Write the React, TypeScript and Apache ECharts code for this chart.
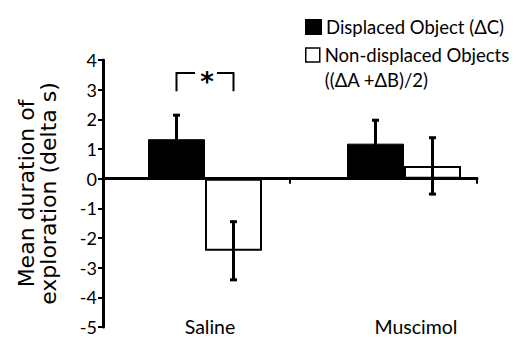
import React, { useEffect, useRef } from 'react';
import * as echarts from 'echarts';

const categories = ['Saline', 'Muscimol'];
const seriesNames = ['Displaced Object (ΔC)', 'Non-displaced Objects\n((ΔA +ΔB)/2)'];
const displacedMean = [1.33, 1.18];
const displacedErr = [0.81, 0.79];
const nonDisplacedMean = [-2.43, 0.43];
const nonDisplacedErr = [0.98, 0.95];
const yMin = -5;
const yMax = 4;
const yName = 'Mean duration of\nexploration (delta s)';
// significance bracket: [category index, bracket top, leg bottom]
const sigBrackets = [[0, 3.56, 2.95]];

const BAR_W = 57;
const HALF = BAR_W / 2;

export default function App() {
  const ref = useRef<HTMLDivElement>(null);
  useEffect(() => {
    const chart = echarts.init(ref.current!, null, { renderer: 'svg' });
    const errRender = (sign: number) => (params: any, api: any) => {
      const cat = api.value(0);
      const mean = api.value(1);
      const err = api.value(2);
      const top = api.coord([cat, mean + err]);
      const bot = api.coord([cat, mean - err]);
      const x = top[0] + sign * HALF;
      const style = { stroke: '#000', lineWidth: 3 };
      return {
        type: 'group',
        children: [
          { type: 'line', shape: { x1: x, y1: top[1], x2: x, y2: bot[1] }, style },
          { type: 'line', shape: { x1: x - 3.5, y1: top[1], x2: x + 3.5, y2: top[1] }, style },
          { type: 'line', shape: { x1: x - 3.5, y1: bot[1], x2: x + 3.5, y2: bot[1] }, style },
        ],
      };
    };
    const option: any = {
      animation: false,
      grid: [
        { left: 103, right: 43, top: 60, bottom: 12 },
        { left: 105.5, right: 16.5, top: 60, bottom: 12 },
        { left: 107, right: 1, top: 60, bottom: 28 },
      ],
      legend: [
        {
          left: 300,
          top: 12,
          orient: 'vertical',
          selectedMode: false,
          itemWidth: 15,
          itemHeight: 14,
          icon: 'rect',
          data: [{ name: seriesNames[0], itemStyle: { color: '#000' } }],
          textStyle: { fontFamily: 'Lato', fontSize: 18.5, lineHeight: 20, color: '#000' },
        },
        {
          left: 300,
          top: 12.5,
          orient: 'vertical',
          selectedMode: false,
          itemWidth: 14,
          itemHeight: 14,
          icon: 'rect',
          data: [
            {
              name: seriesNames[1],
              itemStyle: { color: '#fff', borderColor: '#000', borderWidth: 1.5 },
            },
          ],
          formatter: (name: string) => '\n' + name,
          textStyle: {
            fontFamily: 'Lato',
            fontSize: 18.5,
            color: '#000',
            lineHeight: 25,
          },
        },
      ],
      xAxis: [
        {
          type: 'category',
          gridIndex: 0,
          data: categories,
          boundaryGap: true,
          axisLine: { onZero: true, lineStyle: { color: '#000', width: 3 } },
          axisTick: { show: true, length: 5, lineStyle: { color: '#000', width: 2 } },
          axisLabel: { show: false },
          splitLine: { show: false },
        },
        {
          type: 'category',
          gridIndex: 1,
          data: categories,
          show: false,
        },
        {
          type: 'category',
          gridIndex: 2,
          data: categories,
          position: 'bottom',
          axisLine: { show: false },
          axisTick: { show: false },
          axisLabel: { margin: 6, fontFamily: 'Lato', fontSize: 19.5, lineHeight: 18, color: '#000' },
        },
      ],
      yAxis: [
        {
          type: 'value',
          gridIndex: 0,
          min: yMin,
          max: yMax,
          interval: 1,
          name: yName,
          nameLocation: 'middle',
          nameRotate: 90,
          nameGap: 44,
          nameTextStyle: { fontFamily: 'DejaVu Sans', fontSize: 22, lineHeight: 22, color: '#000' },
          axisLine: { show: true, lineStyle: { color: '#000', width: 3 } },
          axisTick: { show: true, length: 5, lineStyle: { color: '#000', width: 2 } },
          axisLabel: { margin: 6, fontFamily: 'Lato', fontSize: 18, color: '#000' },
          splitLine: { show: false },
        },
        { type: 'value', gridIndex: 1, min: yMin, max: yMax, show: false },
        { type: 'value', gridIndex: 2, show: false },
      ],
      series: [
        {
          type: 'bar',
          name: seriesNames[0],
          xAxisIndex: 1,
          yAxisIndex: 1,
          data: displacedMean,
          barWidth: BAR_W,
          barGap: '0%',
          itemStyle: { color: '#000', borderColor: '#000', borderWidth: 1 },
          z: 2,
        },
        {
          type: 'bar',
          name: seriesNames[1],
          xAxisIndex: 1,
          yAxisIndex: 1,
          data: nonDisplacedMean,
          barWidth: BAR_W,
          barGap: '0%',
          itemStyle: { color: '#fff', borderColor: '#000', borderWidth: 2 },
          z: 2,
        },
        {
          type: 'custom',
          xAxisIndex: 1,
          yAxisIndex: 1,
          renderItem: errRender(-1),
          data: displacedMean.map((m, i) => [i, m, displacedErr[i]]),
          z: 5,
        },
        {
          type: 'custom',
          xAxisIndex: 1,
          yAxisIndex: 1,
          renderItem: errRender(1),
          data: nonDisplacedMean.map((m, i) => [i, m, nonDisplacedErr[i]]),
          z: 5,
        },
        {
          type: 'custom',
          xAxisIndex: 1,
          yAxisIndex: 1,
          z: 6,
          data: sigBrackets,
          renderItem: (params: any, api: any) => {
            const c = api.coord([api.value(0), api.value(1)]);
            const yb = api.coord([api.value(0), api.value(2)])[1];
            const style = { stroke: '#000', lineWidth: 2, fill: 'none' };
            return {
              type: 'group',
              children: [
                {
                  type: 'polyline',
                  shape: { points: [[c[0] - HALF, yb], [c[0] - HALF, c[1]], [c[0] - 10, c[1]]] },
                  style,
                },
                {
                  type: 'polyline',
                  shape: { points: [[c[0] + 12, c[1]], [c[0] + HALF, c[1]], [c[0] + HALF, yb]] },
                  style,
                },
                {
                  type: 'text',
                  x: c[0] + 2,
                  y: c[1] + 9,
                  style: {
                    text: '*',
                    fontFamily: 'DejaVu Sans',
                    fontWeight: 'bold',
                    fontSize: 26,
                    fill: '#000',
                    align: 'center',
                    verticalAlign: 'middle',
                  },
                },
              ],
            };
          },
        },
      ],
    };
    chart.setOption(option);
    return () => chart.dispose();
  }, []);
  return (
    <div
      ref={ref}
      style={{ position: 'fixed', left: 0, top: 0, width: 520, height: 339, background: '#fff' }}
    />
  );
}
